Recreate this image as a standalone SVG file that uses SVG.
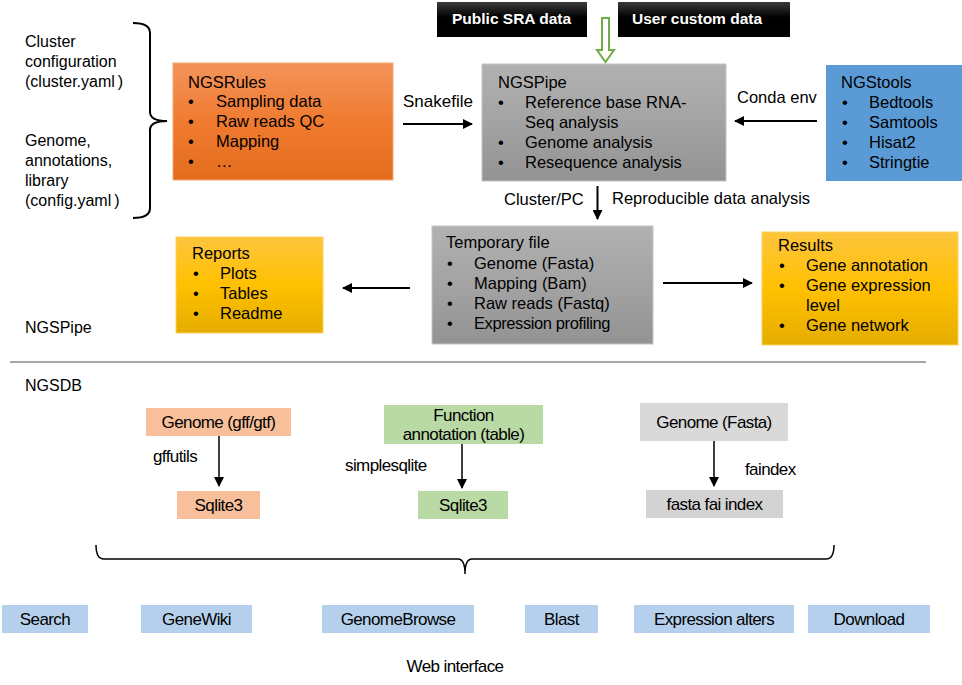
<svg xmlns="http://www.w3.org/2000/svg" width="962" height="685" viewBox="0 0 962 685">
<defs>
<linearGradient id="gOrange" x1="0" y1="0" x2="0" y2="1"><stop offset="0" stop-color="#f3935a"/><stop offset="0.5" stop-color="#f07b30"/><stop offset="1" stop-color="#e36c1c"/></linearGradient>
<linearGradient id="gGray" x1="0" y1="0" x2="0" y2="1"><stop offset="0" stop-color="#b1b1b1"/><stop offset="0.5" stop-color="#a3a3a3"/><stop offset="1" stop-color="#939393"/></linearGradient>
<linearGradient id="gYellow" x1="0" y1="0" x2="0" y2="1"><stop offset="0" stop-color="#fdc53e"/><stop offset="0.5" stop-color="#ffc000"/><stop offset="1" stop-color="#e5ad00"/></linearGradient>
<linearGradient id="gBlack" x1="0" y1="0" x2="0" y2="1"><stop offset="0" stop-color="#3a3a3a"/><stop offset="0.45" stop-color="#000"/><stop offset="1" stop-color="#000"/></linearGradient>
<marker id="ah" viewBox="0 0 10 10" refX="9" refY="5" markerWidth="5" markerHeight="5" orient="auto"><path d="M0,0 L10,5 L0,10 Z" fill="#000"/></marker>
<marker id="ahs" viewBox="0 0 10 10" refX="9" refY="5" markerWidth="7" markerHeight="7" orient="auto"><path d="M0,0 L10,5 L0,10 Z" fill="#000"/></marker>
</defs>
<style>
text{font-family:"Liberation Sans",Arial,sans-serif;fill:#000}
.t16{font-size:16.5px}
.t15{font-size:16px}
.lb{font-size:16.5px}
.w{fill:#fff;font-size:15.5px;font-weight:bold}
.c{font-size:17px;letter-spacing:-0.6px;text-anchor:middle}
.cl{font-size:17px;letter-spacing:-0.6px}
.ln{stroke:#000;stroke-width:2;fill:none}
.lns{stroke:#000;stroke-width:1.5;fill:none}
</style>
<rect width="962" height="685" fill="#fff"/>

<g id="left-config">
<text class="t15" x="25" y="47">Cluster</text>
<text class="t15" x="25" y="67">configuration</text>
<text class="t15" x="25" y="87">(cluster.yaml<tspan dx="3">)</tspan></text>
<text class="t15" x="25" y="146">Genome,</text>
<text class="t15" x="25" y="166">annotations,</text>
<text class="t15" x="25" y="186">library</text>
<text class="t15" x="25" y="206">(config.yaml<tspan dx="3">)</tspan></text>
<path class="ln" d="M133,23 Q150,23 150,33 L150,112 Q150,121 167,121 Q150,121 150,130 L150,208 Q150,218 133,218"/>
</g>

<g id="public-sra">
<rect x="437" y="2" width="150" height="35" fill="url(#gBlack)"/>
<text class="w" x="452" y="24">Public SRA data</text>
</g>
<g id="user-custom">
<rect x="618" y="2" width="172" height="35" fill="url(#gBlack)"/>
<text class="w" x="632" y="24">User custom data</text>
</g>

<g id="ngsrules">
<rect x="173" y="63" width="220" height="117" fill="url(#gOrange)" stroke="#f4a774" stroke-width="1"/>
<text class="t16" x="188" y="88">NGSRules</text>
<text class="t16" x="188" y="107">•</text><text class="t16" x="216" y="107">Sampling data</text>
<text class="t16" x="188" y="127">•</text><text class="t16" x="216" y="127">Raw reads QC</text>
<text class="t16" x="188" y="147">•</text><text class="t16" x="216" y="147">Mapping</text>
<text class="t16" x="188" y="167">•</text><text class="t16" x="216" y="167">…</text>
</g>

<g id="ngspipe">
<rect x="482" y="64" width="244" height="117" fill="url(#gGray)" stroke="#c4c4c4" stroke-width="1"/>
<text class="t16" x="498" y="88">NGSPipe</text>
<text class="t16" x="498" y="108">•</text><text class="t16" x="525" y="108">Reference base RNA-</text>
<text class="t16" x="525" y="128">Seq analysis</text>
<text class="t16" x="498" y="148">•</text><text class="t16" x="525" y="148">Genome analysis</text>
<text class="t16" x="498" y="168">•</text><text class="t16" x="525" y="168">Resequence analysis</text>
</g>

<g id="ngstools">
<rect x="826" y="65" width="136" height="116" fill="#5b9bd5"/>
<text class="t16" x="841" y="88">NGStools</text>
<text class="t16" x="842" y="108">•</text><text class="t16" x="869" y="108">Bedtools</text>
<text class="t16" x="842" y="128">•</text><text class="t16" x="869" y="128">Samtools</text>
<text class="t16" x="842" y="148">•</text><text class="t16" x="869" y="148">Hisat2</text>
<text class="t16" x="842" y="168">•</text><text class="t16" x="869" y="168">Stringtie</text>
</g>

<g id="reports">
<rect x="176" y="237" width="147" height="96" fill="url(#gYellow)" stroke="#fcd25a" stroke-width="1"/>
<text class="t16" x="192" y="259">Reports</text>
<text class="t16" x="193" y="279">•</text><text class="t16" x="220" y="279">Plots</text>
<text class="t16" x="193" y="299">•</text><text class="t16" x="220" y="299">Tables</text>
<text class="t16" x="193" y="319">•</text><text class="t16" x="220" y="319">Readme</text>
</g>

<g id="temporary">
<rect x="432" y="226" width="221" height="118" fill="url(#gGray)" stroke="#c4c4c4" stroke-width="1"/>
<text class="t16" x="446" y="248">Temporary file</text>
<text class="t16" x="447" y="269">•</text><text class="t16" x="474" y="269">Genome (Fasta)</text>
<text class="t16" x="447" y="289">•</text><text class="t16" x="474" y="289">Mapping (Bam)</text>
<text class="t16" x="447" y="309">•</text><text class="t16" x="474" y="309">Raw reads (Fastq)</text>
<text class="t16" x="447" y="329">•</text><text class="t16" x="474" y="329" letter-spacing="-0.4">Expression profiling</text>
</g>

<g id="results">
<rect x="762" y="232" width="196" height="113" fill="url(#gYellow)" stroke="#fcd25a" stroke-width="1"/>
<text class="t16" x="778" y="251">Results</text>
<text class="t16" x="779" y="271">•</text><text class="t16" x="806" y="271">Gene annotation</text>
<text class="t16" x="779" y="291">•</text><text class="t16" x="806" y="291">Gene expression</text>
<text class="t16" x="806" y="311">level</text>
<text class="t16" x="779" y="331">•</text><text class="t16" x="806" y="331">Gene network</text>
</g>

<g id="section-labels">
<text class="t15" x="25" y="333">NGSPipe</text>
<line x1="10" y1="362" x2="926" y2="362" stroke="#a6a6a6" stroke-width="2"/>
<text class="t15" x="25" y="391">NGSDB</text>
</g>

<g id="genome-gff">
<rect x="146" y="408" width="145" height="28" fill="#f7bf9a"/>
<text class="c" x="218.5" y="428">Genome (gff/gtf)</text>
</g>
<g id="sqlite3-a">
<rect x="177" y="491" width="83" height="28" fill="#f7bf9a"/>
<text class="c" x="218.5" y="511">Sqlite3</text>
</g>
<g id="function-annotation">
<rect x="384" y="405" width="159" height="39" fill="#b9d9a5"/>
<text class="c" x="463.5" y="421">Function</text>
<text class="c" x="463.5" y="440">annotation (table)</text>
</g>
<g id="sqlite3-b">
<rect x="418" y="491" width="90" height="28" fill="#b9d9a5"/>
<text class="c" x="463" y="511">Sqlite3</text>
</g>
<g id="genome-fasta">
<rect x="640" y="403" width="148" height="38" fill="#d9d9d9"/>
<text class="c" x="714" y="428">Genome (Fasta)</text>
</g>
<g id="fasta-fai">
<rect x="646" y="490" width="137" height="28" fill="#d3d3d3"/>
<text class="c" x="714.5" y="510">fasta fai index</text>
</g>

<g id="web-brace">
<path class="lns" d="M96,545 Q96,559 104,559 L458,559 Q465,559 465,574 Q465,559 472,559 L826,559 Q834,559 834,545"/>
</g>

<g id="search"><rect x="2" y="605" width="86" height="28" fill="#b4d0ec"/><text class="c" x="45" y="625">Search</text></g>
<g id="genewiki"><rect x="141" y="605" width="111" height="28" fill="#b4d0ec"/><text class="c" x="196.5" y="625">GeneWiki</text></g>
<g id="genomebrowse"><rect x="322" y="605" width="152" height="28" fill="#b4d0ec"/><text class="c" x="398" y="625">GenomeBrowse</text></g>
<g id="blast"><rect x="525" y="605" width="73" height="28" fill="#b4d0ec"/><text class="c" x="561.5" y="625">Blast</text></g>
<g id="expression-alters"><rect x="634" y="605" width="160" height="28" fill="#b4d0ec"/><text class="c" x="714" y="625">Expression alters</text></g>
<g id="download"><rect x="808" y="605" width="122" height="28" fill="#b4d0ec"/><text class="c" x="869" y="625">Download</text></g>
<g id="web-label"><text class="c" x="455" y="672">Web interface</text></g>

<g id="connectors">
<path d="M602,18 L609,18 L609,50 L614,50 L605.5,62 L597,50 L602,50 Z" fill="#fff" stroke="#70ad47" stroke-width="2" stroke-linejoin="miter"/>
<line class="ln" x1="403" y1="124" x2="472" y2="124" marker-end="url(#ah)"/>
<text x="403" y="107" font-size="17">Snakefile</text>
<line class="ln" x1="817" y1="121" x2="735" y2="121" marker-end="url(#ah)"/>
<text class="lb" x="737" y="103">Conda env</text>
<line class="ln" x1="597.5" y1="186" x2="597.5" y2="219" marker-end="url(#ah)"/>
<text class="lb" x="504" y="205">Cluster/PC</text>
<text class="lb" x="612" y="204">Reproducible data analysis</text>
<line class="ln" x1="410" y1="288" x2="343" y2="288" marker-end="url(#ah)"/>
<line class="ln" x1="663" y1="283" x2="752" y2="283" marker-end="url(#ah)"/>
<line class="lns" x1="219" y1="436" x2="219" y2="486" marker-end="url(#ahs)"/>
<text class="cl" x="153" y="462">gffutils</text>
<line class="lns" x1="462" y1="444" x2="462" y2="488" marker-end="url(#ahs)"/>
<text class="cl" x="345" y="471">simplesqlite</text>
<line class="lns" x1="714" y1="441" x2="714" y2="486" marker-end="url(#ahs)"/>
<text class="cl" x="745" y="475">faindex</text>
</g>
</svg>
